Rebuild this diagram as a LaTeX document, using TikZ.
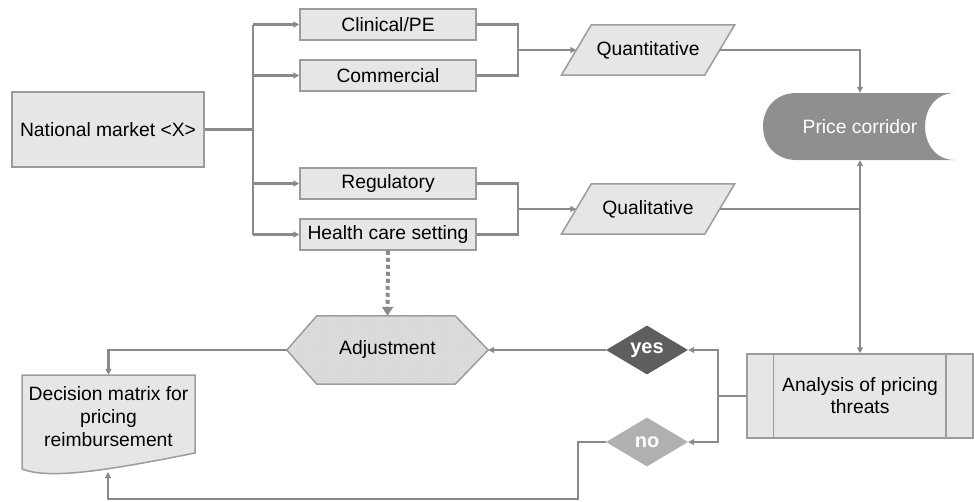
\documentclass[tikz,border=0pt]{standalone}
\usepackage{fontspec}
\setmainfont{Liberation Sans}
\usepackage{tikz}
\usetikzlibrary{positioning, arrows.meta, shapes.geometric, backgrounds, patterns}
\definecolor{linegray}{HTML}{8A8A8A}
\definecolor{boxfill}{HTML}{E6E6E6}
\definecolor{boxline}{HTML}{9C9C9C}
\definecolor{corrfill}{HTML}{8F8F8F}
\definecolor{yesfill}{HTML}{5E5E5E}
\definecolor{nofill}{HTML}{B0B0B0}
\definecolor{hexfill}{HTML}{DCDCDC}
\tikzset{box/.style={draw=boxline, fill=boxfill, line width=1.5pt, minimum width=176pt, minimum height=31pt, inner sep=0pt},
	plain/.style={inner sep=0pt, align=center},
	flow/.style={draw=linegray, line width=2.5pt},
	arr/.style={-{Triangle[length=6pt,width=6pt]}},
	dotflow/.style={draw=linegray, line width=4pt, dash pattern=on 4pt off 3pt, -{Triangle[length=9pt,width=11pt]}},
	choice/.style={diamond, minimum width=82pt, minimum height=49pt, inner sep=0pt, text=white, font=\fontsize{20}{24}\selectfont\bfseries},
	outline/.style={draw=boxline, line width=1.5pt}}

\begin{document}
\begin{tikzpicture}[x=1pt, y=-1pt, font=\fontsize{19.3}{23}\selectfont]
	\useasboundingbox (0,0) rectangle (974,501);
	% left column
	\node[box, minimum width=192pt, minimum height=75pt] (market) at (108,129.5) {National market <X>};
	\node[box] (clin) at (388,24.5) {Clinical/PE};
	\node[box] (comm) at (388,75.5) {Commercial};
	\node[box] (regu) at (388,183.5) {Regulatory};
	\node[box] (hcs) at (388,234.5) {Health care setting};
	% middle and right
	\node[plain, minimum width=143pt, minimum height=50pt] (quant) at (648,50) {Quantitative};
	\node[plain, minimum width=143pt, minimum height=50pt] (qual) at (648,209) {Qualitative};
	\node[plain, text=white, minimum height=67pt] (corridor) at (860,126.5) {Price corridor};
	\node[box, minimum width=226pt, minimum height=84pt, align=center] (threats) at (860,396) {Analysis of pricing\\[-1pt]threats};
	\node[choice, fill=yesfill] (yes) at (647,350) {yes};
	\node[choice, fill=nofill] (no) at (647,442) {no};
	\node[plain, minimum width=201pt, minimum height=68pt] (adjust) at (387.5,350) {Adjustment};
	\node[plain, minimum width=173pt, minimum height=84pt] (matrix) at (108.5,417) {Decision matrix for\\pricing\\reimbursement};
	\coordinate (mbottom) at (108,472);

	\begin{pgfonlayer}{background}
		\filldraw[outline, fill=boxfill] ([xshift=15pt]quant.north west) -- ([xshift=15pt]quant.north east) -- ([xshift=-15pt]quant.south east) -- ([xshift=-15pt]quant.south west) -- cycle;
		\filldraw[outline, fill=boxfill] ([xshift=15pt]qual.north west) -- ([xshift=15pt]qual.north east) -- ([xshift=-15pt]qual.south east) -- ([xshift=-15pt]qual.south west) -- cycle;
		\fill[corrfill] (796.5,93) -- (955,93) .. controls (915,93) and (915,160) .. (955,160) -- (796.5,160) .. controls (751.8,160) and (751.8,93) .. (796.5,93) -- cycle;
		\filldraw[outline, fill=hexfill] (adjust.west) -- ([xshift=30pt]adjust.north west) -- ([xshift=-33pt]adjust.north east) -- (adjust.east) -- ([xshift=-33pt]adjust.south east) -- ([xshift=30pt]adjust.south west) -- cycle;
		\fill[pattern=dots, pattern color=gray!45] ([xshift=2pt]adjust.west) -- ([xshift=31pt,yshift=-2pt]adjust.north west) -- ([xshift=-34pt,yshift=-2pt]adjust.north east) -- ([xshift=-2pt]adjust.east) -- ([xshift=-34pt,yshift=2pt]adjust.south east) -- ([xshift=31pt,yshift=2pt]adjust.south west) -- cycle;
		\filldraw[outline, fill=boxfill] (22,375) -- (195,375) -- (195,453) .. controls (110,470) and (50,480) .. (22,469) -- cycle;
	\end{pgfonlayer}
	\draw[outline] ([xshift=27pt]threats.north west) -- ([xshift=27pt]threats.south west);
	\draw[outline] ([xshift=-28pt]threats.north east) -- ([xshift=-28pt]threats.south east);

	% fork from the market
	\draw[flow, line width=3pt] (market.east) -- ++(48,0) coordinate (fork);
	\draw[flow] (fork |- clin) -- (fork |- hcs);
	\foreach \n in {clin,comm,regu,hcs}
		\draw[flow, arr] (fork |- \n) -- (\n.west);

	% joins
	\draw[flow] (clin.east) -| (518,50) |- (comm.east);
	\draw[flow, arr] (518,50) -- (quant.west);
	\draw[flow] (regu.east) -| (518,209) |- (hcs.east);
	\draw[flow, arr] (518,209) -- (qual.west);
	\draw[flow, arr] (quant.east) -| (corridor.north);
	\draw[flow] (qual.east) -- (qual.east -| corridor.south);
	\draw[flow, {Triangle[length=6pt,width=6pt]}-{Triangle[length=6pt,width=6pt]}] (corridor.south) -- (threats.north);

	% decision
	\draw[flow] (threats.west) -- (718,396) coordinate (tj);
	\draw[flow, arr] (tj) |- (yes.east);
	\draw[flow, arr] (tj) |- (no.east);
	\draw[flow, arr] (yes.west) -- (adjust.east);
	\draw[dotflow] (hcs.south) -- (adjust.north);
	\draw[flow, arr] (adjust.west) -| (matrix.north);
	\draw[flow, arr] (no.west) -| (578,499) -| (mbottom);
\end{tikzpicture}
\end{document}
